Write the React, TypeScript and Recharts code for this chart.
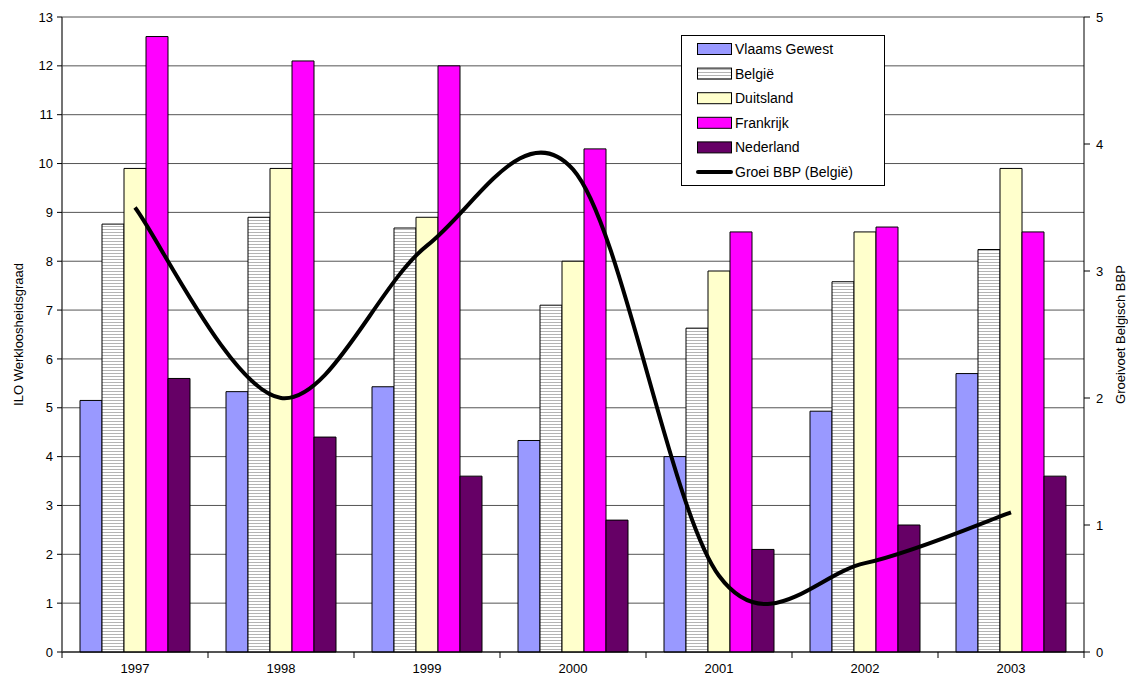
import {
  Bar,
  CartesianGrid,
  ComposedChart,
  Label,
  Legend,
  Line,
  XAxis,
  YAxis,
} from 'recharts'

const FONT = '"Liberation Sans", Arial, sans-serif'

const years = ['1997', '1998', '1999', '2000', '2001', '2002', '2003']
const vlaams = [5.15, 5.33, 5.43, 4.33, 4.0, 4.93, 5.7]
const belgie = [8.76, 8.9, 8.68, 7.1, 6.63, 7.58, 8.24]
const duitsland = [9.9, 9.9, 8.9, 8.0, 7.8, 8.6, 9.9]
const frankrijk = [12.6, 12.1, 12.0, 10.3, 8.6, 8.7, 8.6]
const nederland = [5.6, 4.4, 3.6, 2.7, 2.1, 2.6, 3.6]
const groei = [3.5, 2.0, 3.2, 3.8, 0.6, 0.7, 1.1]

const leftTicks = [0, 1, 2, 3, 4, 5, 6, 7, 8, 9, 10, 11, 12, 13]
const rightTicks = [0, 1, 2, 3, 4, 5]

const series = [
  { key: 'vlaams', name: 'Vlaams Gewest', fill: '#9999ff' },
  { key: 'belgie', name: 'België', fill: 'url(#stripes)' },
  { key: 'duitsland', name: 'Duitsland', fill: '#ffffcc' },
  { key: 'frankrijk', name: 'Frankrijk', fill: '#ff00ff' },
  { key: 'nederland', name: 'Nederland', fill: '#660066' },
]

const data = years.map((year, i) => ({
  year,
  vlaams: vlaams[i],
  belgie: belgie[i],
  duitsland: duitsland[i],
  frankrijk: frankrijk[i],
  nederland: nederland[i],
  groei: groei[i],
}))

// smoothed line like the spreadsheet one (catmull-rom style bezier)
const smoothCurve = (context: any) => {
  let pts: number[][] = []
  return {
    areaStart() {},
    areaEnd() {},
    lineStart() {
      pts = []
    },
    point(x: number, y: number) {
      pts.push([+x, +y])
    },
    lineEnd() {
      const n = pts.length
      if (!n) return
      context.moveTo(pts[0][0], pts[0][1])
      for (let i = 0; i < n - 1; i++) {
        const p0 = pts[Math.max(i - 1, 0)]
        const p1 = pts[i]
        const p2 = pts[i + 1]
        const p3 = pts[Math.min(i + 2, n - 1)]
        context.bezierCurveTo(
          p1[0] + (p2[0] - p0[0]) / 6,
          p1[1] + (p2[1] - p0[1]) / 6,
          p2[0] - (p3[0] - p1[0]) / 6,
          p2[1] - (p3[1] - p1[1]) / 6,
          p2[0],
          p2[1]
        )
      }
    },
  }
}

const YearTick = (props: any) => {
  const { x, y, payload, index } = props
  const half = payload?.offset ?? 73
  return (
    <g>
      <line x1={x - half} x2={x - half} y1={y} y2={y + 6} stroke="#000" />
      {index === years.length - 1 && (
        <line x1={x + half} x2={x + half} y1={y} y2={y + 6} stroke="#000" />
      )}
      <text x={x} y={y + 21} textAnchor="middle" fontSize={13} fontFamily={FONT} fill="#000">
        {payload.value}
      </text>
    </g>
  )
}

const AxisTitle = (props: any) => {
  const { viewBox, value, dx } = props
  const cx = viewBox.x + dx
  const cy = viewBox.y + viewBox.height / 2
  return (
    <text
      x={cx}
      y={cy}
      transform={`rotate(-90 ${cx} ${cy})`}
      textAnchor="middle"
      dominantBaseline="central"
      fontSize={13}
      fontFamily={FONT}
      fill="#000"
    >
      {value}
    </text>
  )
}

const LegendBox = () => (
  <svg width={204} height={151} style={{ display: 'block' }}>
    <rect x={0.5} y={0.5} width={203} height={150} fill="#fff" stroke="#000" />
    {series.map((s, i) => (
      <g key={s.key}>
        <rect x={16.5} y={8.5 + i * 24.6} width={34} height={11} fill={s.fill} stroke="#000" />
        <text x={54} y={19 + i * 24.6} fontSize={14} fontFamily={FONT} fill="#000">
          {s.name}
        </text>
      </g>
    ))}
    <line x1={17} x2={50} y1={137} y2={137} stroke="#000" strokeWidth={4} strokeLinecap="round" />
    <text x={54} y={142} fontSize={14} fontFamily={FONT} fill="#000">
      Groei BBP (België)
    </text>
  </svg>
)

export default function App() {
  return (
    <div style={{ position: 'absolute', left: 0, top: 0, width: 1128, height: 682, background: '#fff' }}>
      <svg width={0} height={0} style={{ position: 'absolute' }}>
        <defs>
          <pattern id="stripes" width={4} height={3} patternUnits="userSpaceOnUse">
            <rect width={4} height={3} fill="#ffffff" />
            <rect y={1} width={4} height={1} fill="#b4b4b4" />
          </pattern>
        </defs>
      </svg>
      <ComposedChart
        width={1128}
        height={682}
        data={data}
        margin={{ top: 17, right: 0, bottom: 0, left: 0 }}
        barCategoryGap={18}
        barGap={0}
      >
        <CartesianGrid yAxisId="left" vertical={false} stroke="#555" />
        <XAxis
          dataKey="year"
          height={30}
          tickSize={0}
          tickMargin={0}
          tickLine={false}
          interval={0}
          axisLine={{ stroke: '#000' }}
          tick={<YearTick />}
        />
        <YAxis
          yAxisId="left"
          width={62}
          domain={[0, 13]}
          ticks={leftTicks}
          interval={0}
          tickSize={5}
          tickMargin={4}
          axisLine={{ stroke: '#444', strokeWidth: 1.5 }}
          tickLine={{ stroke: '#000' }}
          tick={{ fill: '#000', fontSize: 13, fontFamily: FONT }}
        >
          <Label content={<AxisTitle dx={18} />} value="ILO Werkloosheidsgraad" />
        </YAxis>
        <YAxis
          yAxisId="right"
          orientation="right"
          width={44}
          domain={[0, 5]}
          ticks={rightTicks}
          interval={0}
          tickSize={6}
          tickMargin={6}
          axisLine={{ stroke: '#000' }}
          tickLine={{ stroke: '#000' }}
          tick={{ fill: '#000', fontSize: 13, fontFamily: FONT }}
        >
          <Label content={<AxisTitle dx={36} />} value="Groeivoet Belgisch BBP" />
        </YAxis>
        <Legend
          layout="vertical"
          align="center"
          verticalAlign="middle"
          wrapperStyle={{ left: 681, top: 35, width: 204 }}
          content={<LegendBox />}
        />
        {series.map((s) => (
          <Bar
            key={s.key}
            yAxisId="left"
            dataKey={s.key}
            name={s.name}
            fill={s.fill}
            stroke="#000"
            strokeWidth={1}
            isAnimationActive={false}
          />
        ))}
        <Line
          yAxisId="right"
          dataKey="groei"
          name="Groei BBP (België)"
          type={smoothCurve as any}
          stroke="#000"
          strokeWidth={4}
          dot={false}
          activeDot={false}
          isAnimationActive={false}
        />
      </ComposedChart>
    </div>
  )
}
